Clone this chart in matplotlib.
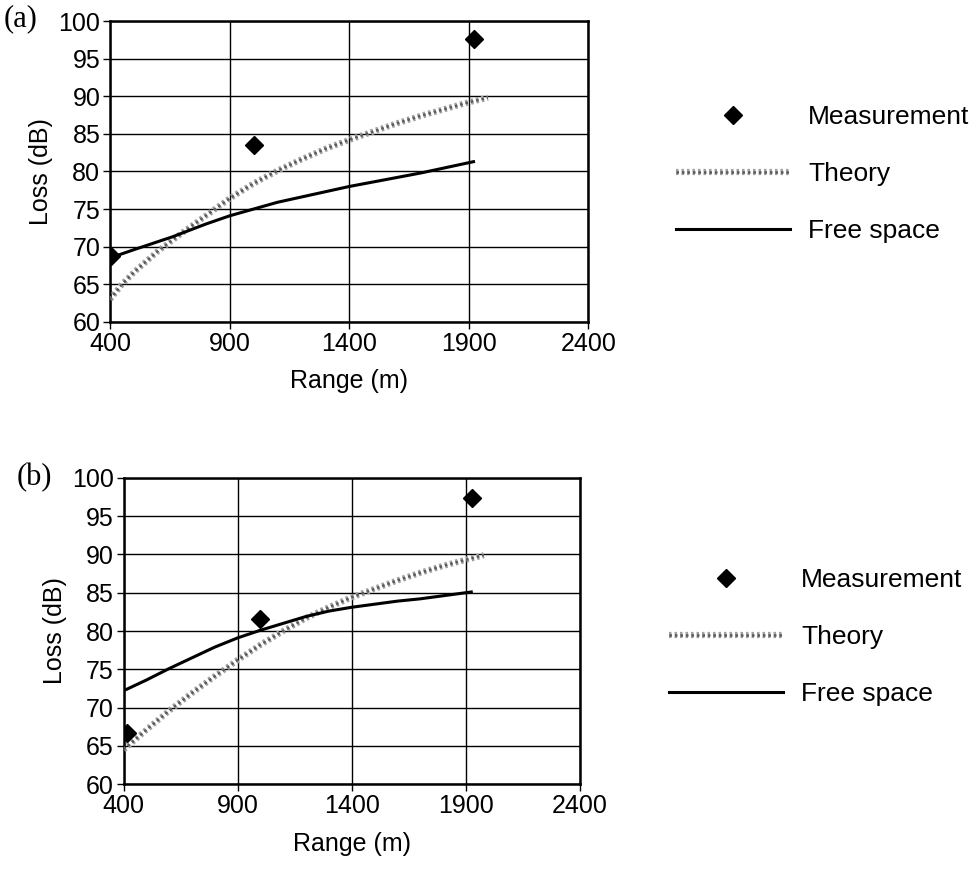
import matplotlib.pyplot as plt
import matplotlib.patheffects as pe

plt.rcParams['font.family'] = ['Liberation Sans', 'DejaVu Sans']

# panel (a)
meas_x_a = [405, 1000, 1920]
meas_y_a = [68.7, 83.5, 97.6]
theory_x_a = [400, 450, 500, 600, 700, 800, 900, 1000, 1100, 1200, 1300, 1400, 1500, 1600, 1700, 1800, 1900, 1980]
theory_y_a = [63.0, 65.0, 66.6, 69.4, 71.8, 74.1, 76.4, 78.4, 80.1, 81.6, 83.0, 84.2, 85.3, 86.4, 87.4, 88.3, 89.2, 89.8]
free_x_a = [400, 500, 660, 800, 900, 1000, 1100, 1400, 1700, 1920]
free_y_a = [68.5, 69.6, 71.3, 73.0, 74.1, 75.0, 75.9, 78.0, 79.8, 81.3]

# panel (b)
meas_x_b = [413, 1000, 1930]
meas_y_b = [66.7, 81.6, 97.4]
theory_x_b = [400, 450, 500, 600, 700, 800, 900, 1000, 1100, 1200, 1300, 1400, 1500, 1600, 1700, 1800, 1900, 1980]
theory_y_b = [64.5, 65.8, 67.1, 69.6, 71.9, 74.1, 76.2, 78.2, 80.0, 81.7, 83.1, 84.4, 85.5, 86.6, 87.6, 88.5, 89.3, 89.9]
free_x_b = [400, 500, 600, 700, 800, 900, 1000, 1100, 1200, 1300, 1400, 1500, 1600, 1700, 1800, 1925]
free_y_b = [72.2, 73.6, 75.1, 76.5, 77.9, 79.1, 80.1, 81.0, 81.9, 82.6, 83.1, 83.5, 83.9, 84.2, 84.6, 85.1]

xticks = [400, 900, 1400, 1900, 2400]
yticks = [60, 65, 70, 75, 80, 85, 90, 95, 100]

fig = plt.figure(figsize=(9.74, 8.77), dpi=100)
ax_a = fig.add_axes([0.113, 0.633, 0.491, 0.343])
ax_b = fig.add_axes([0.127, 0.106, 0.468, 0.349])

panels = [
    (ax_a, '(a)', (0.004, 0.979), meas_x_a, meas_y_a, theory_x_a, theory_y_a, free_x_a, free_y_a, (1.184, 0.49)),
    (ax_b, '(b)', (0.017, 0.455), meas_x_b, meas_y_b, theory_x_b, theory_y_b, free_x_b, free_y_b, (1.197, 0.48)),
]

for ax, tag, tagpos, mx, my, tx, ty, fx, fy, anchor in panels:
    ax.plot(mx, my, 'D', color='black', markersize=9.5, label='Measurement', zorder=5)
    # grey speckled theory curve
    ax.plot(tx, ty, color='#5a5a5a', lw=1.8, ls=(0, (1, 1.2)), label='Theory', zorder=3,
            path_effects=[pe.Stroke(linewidth=4.5, foreground='#a0a0a0'), pe.Normal()])
    ax.plot(fx, fy, color='black', lw=2.2, label='Free space', zorder=4)
    ax.set_xlim(400, 2400)
    ax.set_ylim(60, 100)
    ax.set_xticks(xticks)
    ax.set_yticks(yticks)
    ax.grid(True, color='black', lw=1.0)
    ax.set_axisbelow(True)
    for s in ax.spines.values():
        s.set_linewidth(1.8)
    ax.tick_params(direction='out', length=5, width=1, labelsize=18, pad=2)
    ax.set_xlabel('Range (m)', fontsize=18, labelpad=10)
    ax.set_ylabel('Loss (dB)', fontsize=18, labelpad=4)
    fig.text(tagpos[0], tagpos[1], tag, fontsize=22, family='Liberation Serif',
             va='center', ha='left')
    ax.legend(loc='center left', bbox_to_anchor=anchor, frameon=False, borderaxespad=0,
              borderpad=0, fontsize=19, handlelength=4.3, labelspacing=1.25,
              handletextpad=0.7)

fig.savefig('out.png', dpi=100)
